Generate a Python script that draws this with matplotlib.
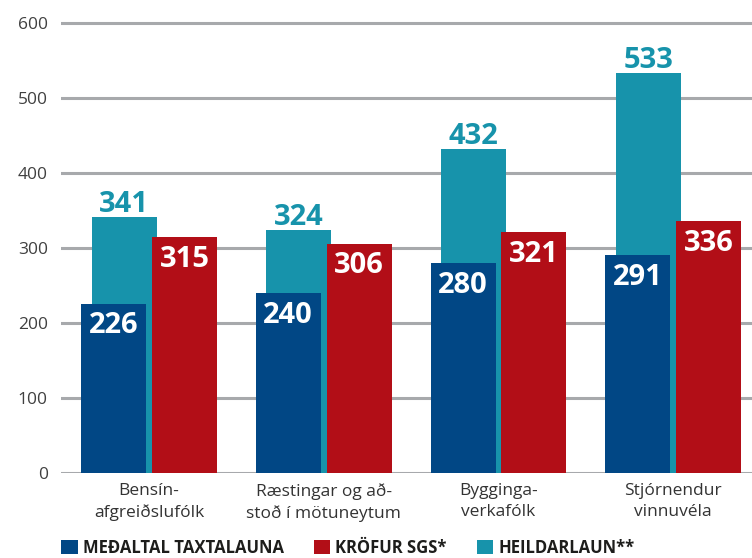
import numpy as np
import matplotlib
matplotlib.use("Agg")
import matplotlib.pyplot as plt

plt.rcParams.update({
    "font.family": ["Open Sans", "DejaVu Sans"],
})

categories = ["Bensín-\nafgreiðslufólk", "Ræstingar og að-\nstoð í mötuneytum",
              "Bygginga-\nverkafólk", "Stjórnendur\nvinnuvéla"]
medaltal = [226, 240, 280, 291]
krofur = [315, 306, 321, 336]
heildarlaun = [341, 324, 432, 533]

c_blue = "#014785"
c_red = "#b20e17"
c_teal = "#1793ab"
c_grid = "#a7a9ac"

fig = plt.figure(figsize=(7.52, 5.58), dpi=100)
ax = fig.add_axes([61 / 752, 85 / 558, 691 / 752, 472.5 / 558])

x = np.arange(len(categories))
w = 0.372

b_teal = ax.bar(x - 0.143, heildarlaun, w, color=c_teal, zorder=2, label="HEILDARLAUN**")
b_blue = ax.bar(x - 0.203, medaltal, w, color=c_blue, zorder=3, label="MEÐALTAL TAXTALAUNA")
b_red = ax.bar(x + 0.203, krofur, w, color=c_red, zorder=3, label="KRÖFUR SGS*")

def label_bars(bars, vals, color, dy):
    for b, v in zip(bars, vals):
        ax.annotate(str(v), (b.get_x() + b.get_width() / 2, v),
                    xytext=(0, dy), textcoords="offset points",
                    ha="center", va="baseline", color=color,
                    fontsize=21, fontweight="bold", zorder=5)

label_bars(b_teal, heildarlaun, c_teal, 3.6)
label_bars(b_blue, medaltal, "white", -21.5)
label_bars(b_red, krofur, "white", -21.5)

ax.set_xlim(-0.504, 3.451)
ax.set_ylim(0, 630)
ax.set_yticks(range(0, 601, 100))
ax.set_xticks(x)
ax.set_xticklabels(categories, linespacing=1.45)
ax.grid(axis="y", color=c_grid, linewidth=2.2, zorder=0)
ax.set_axisbelow(True)
for s in ax.spines.values():
    s.set_visible(False)
ax.tick_params(axis="y", length=0, pad=9.5, labelsize=12.5, labelcolor="#404040")
ax.tick_params(axis="x", length=0, pad=7, labelsize=12.5, labelcolor="#333333")

handles = [b_blue, b_red, b_teal]
fig.legend(handles, [h.get_label() for h in handles], loc="center left",
           bbox_to_anchor=(61 / 752, 10 / 558), ncol=3, frameon=False,
           prop={"weight": "bold", "size": 12}, labelcolor="#1d1d1b",
           handlelength=1.0, handleheight=0.9, handletextpad=0.3,
           columnspacing=1.8, borderpad=0, borderaxespad=0)

fig.savefig("out.png", dpi=100)
